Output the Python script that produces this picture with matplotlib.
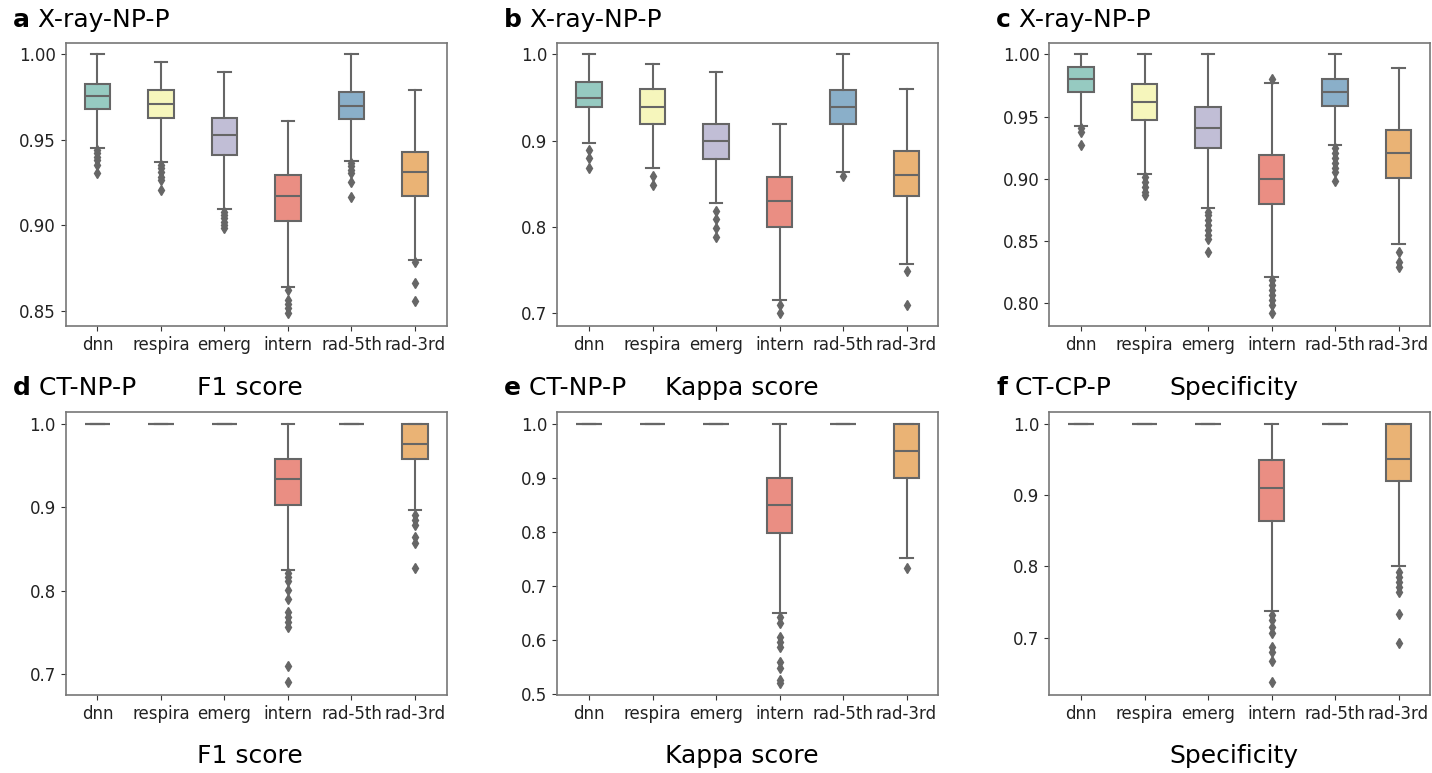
import colorsys
import matplotlib
matplotlib.use('Agg')
import matplotlib.pyplot as plt
import matplotlib.colors as mcolors

groups = ['dnn', 'respira', 'emerg', 'intern', 'rad-5th', 'rad-3rd']
base_colors = ['#8dd3c7', '#ffffb3', '#bebada', '#fb8072', '#80b1d3', '#fdb462']

# per panel, per group: [whislo, q1, med, q3, whishi] and fliers
a_stats = [[0.9455, 0.9679, 0.9755, 0.9827, 1.000],
           [0.9369, 0.9626, 0.9712, 0.9792, 0.9953],
           [0.9098, 0.9410, 0.9527, 0.9626, 0.9899],
           [0.8642, 0.9028, 0.9172, 0.9293, 0.9612],
           [0.9379, 0.9620, 0.9700, 0.9782, 1.000],
           [0.8800, 0.9174, 0.9310, 0.9427, 0.9792]]
a_fliers = [[0.9441, 0.9421, 0.9402, 0.9383, 0.9353, 0.9309],
            [0.9353, 0.9334, 0.9314, 0.9285, 0.9266, 0.9207],
            [0.9081, 0.9061, 0.9042, 0.9022, 0.9003, 0.8987],
            [0.8623, 0.8564, 0.8541, 0.8516, 0.8487],
            [0.9367, 0.9347, 0.9324, 0.9305, 0.9256, 0.9168],
            [0.8788, 0.8666, 0.8559]]

b_stats = [[0.8969, 0.9390, 0.9498, 0.9683, 1.000],
           [0.8687, 0.9193, 0.9390, 0.9595, 0.9892],
           [0.8278, 0.8792, 0.8996, 0.9193, 0.9792],
           [0.7154, 0.8000, 0.8297, 0.8579, 0.9193],
           [0.8633, 0.9193, 0.9390, 0.9587, 1.000],
           [0.7575, 0.8359, 0.8598, 0.8880, 0.9595]]
b_fliers = [[0.8892, 0.8795, 0.8687],
            [0.8591, 0.8486],
            [0.8185, 0.8093, 0.7992, 0.7880],
            [0.7097, 0.7000],
            [0.8591],
            [0.7494, 0.7097]]

c_stats = [[0.9424, 0.9700, 0.9799, 0.9898, 1.000],
           [0.9041, 0.9473, 0.9614, 0.9764, 1.000],
           [0.8763, 0.9250, 0.9411, 0.9577, 1.000],
           [0.8214, 0.8801, 0.8996, 0.9194, 0.9770],
           [0.9274, 0.9588, 0.9700, 0.9805, 1.000],
           [0.8477, 0.9009, 0.9207, 0.9392, 0.9893]]
c_fliers = [[0.9406, 0.9379, 0.9272],
            [0.9017, 0.8977, 0.8937, 0.8897, 0.8870],
            [0.8736, 0.8710, 0.8669, 0.8629, 0.8589, 0.8549, 0.8514, 0.8410],
            [0.9802, 0.8187, 0.8147, 0.8107, 0.8067, 0.8027, 0.7987, 0.7920],
            [0.9245, 0.9205, 0.9165, 0.9124, 0.9084, 0.9058, 0.8985],
            [0.8410, 0.8335, 0.8295]]

d_stats = [[1.0, 1.0, 1.0, 1.0, 1.0],
           [1.0, 1.0, 1.0, 1.0, 1.0],
           [1.0, 1.0, 1.0, 1.0, 1.0],
           [0.8242, 0.9029, 0.9333, 0.9577, 1.000],
           [1.0, 1.0, 1.0, 1.0, 1.0],
           [0.8969, 0.9577, 0.9760, 1.000, 1.000]]
d_fliers = [[], [], [],
            [0.8206, 0.8158, 0.8118, 0.8006, 0.7895, 0.7747, 0.7687, 0.7627,
             0.7559, 0.7095, 0.6900],
            [],
            [0.8905, 0.8845, 0.8785, 0.8646, 0.8566, 0.8270]]

e_stats = [[1.0, 1.0, 1.0, 1.0, 1.0],
           [1.0, 1.0, 1.0, 1.0, 1.0],
           [1.0, 1.0, 1.0, 1.0, 1.0],
           [0.6502, 0.7986, 0.8491, 0.8990, 1.000],
           [1.0, 1.0, 1.0, 1.0, 1.0],
           [0.7525, 0.9002, 0.9495, 1.000, 1.000]]
e_fliers = [[], [], [],
            [0.6435, 0.6312, 0.6065, 0.5973, 0.5868, 0.5603, 0.5480, 0.5265,
             0.5216],
            [],
            [0.7328]]

f_stats = [[1.0, 1.0, 1.0, 1.0, 1.0],
           [1.0, 1.0, 1.0, 1.0, 1.0],
           [1.0, 1.0, 1.0, 1.0, 1.0],
           [0.7374, 0.8640, 0.9098, 0.9491, 1.000],
           [1.0, 1.0, 1.0, 1.0, 1.0],
           [0.8009, 0.9201, 0.9505, 1.000, 1.000]]
f_fliers = [[], [], [],
            [0.7318, 0.7248, 0.7154, 0.7061, 0.6874, 0.6804, 0.6673, 0.6374],
            [],
            [0.7916, 0.7855, 0.7785, 0.7715, 0.7636, 0.7332, 0.6921]]

panels = [
    ('a', 'X-ray-NP-P', '', a_stats, a_fliers, (0.8412, 1.0068),
     [0.85, 0.90, 0.95, 1.00], '%.2f'),
    ('b', 'X-ray-NP-P', '', b_stats, b_fliers, (0.6853, 1.0134),
     [0.7, 0.8, 0.9, 1.0], '%.1f'),
    ('c', 'X-ray-NP-P', '', c_stats, c_fliers, (0.7818, 1.0093),
     [0.80, 0.85, 0.90, 0.95, 1.00], '%.2f'),
    ('d', 'CT-NP-P', 'F1 score', d_stats, d_fliers, (0.6748, 1.0144),
     [0.7, 0.8, 0.9, 1.0], '%.1f'),
    ('e', 'CT-NP-P', 'Kappa score', e_stats, e_fliers, (0.4987, 1.0222),
     [0.5, 0.6, 0.7, 0.8, 0.9, 1.0], '%.1f'),
    ('f', 'CT-CP-P', 'Specificity', f_stats, f_fliers, (0.6197, 1.0168),
     [0.7, 0.8, 0.9, 1.0], '%.1f'),
]


def desat(c, prop=0.75):
    h, l, s = colorsys.rgb_to_hls(*mcolors.to_rgb(c))
    return colorsys.hls_to_rgb(h, l, s * prop)


colors = [desat(c) for c in base_colors]
gray = '#666666'

W, H = 1432, 773
fig = plt.figure(figsize=(W / 100, H / 100), dpi=100)

lefts = [65.7, 557.3, 1049.3]
tops = [42.7, 411.7]
aw, ah = 381.0, 283.3

for i, (letter, name, metric, stats, fliers, ylim, yt, fmt) in enumerate(panels):
    row, col = divmod(i, 3)
    left, top = lefts[col], tops[row]
    ax = fig.add_axes([left / W, 1 - (top + ah) / H, aw / W, ah / H])

    bxp_stats = []
    for s, fl, g in zip(stats, fliers, groups):
        bxp_stats.append(dict(whislo=s[0], q1=s[1], med=s[2], q3=s[3],
                              whishi=s[4], fliers=fl, label=g))
    res = ax.bxp(bxp_stats, positions=range(len(groups)), widths=0.4,
                 patch_artist=True, capwidths=0.2,
                 boxprops=dict(edgecolor=gray, linewidth=1.5),
                 whiskerprops=dict(color=gray, linewidth=1.5),
                 capprops=dict(color=gray, linewidth=1.5),
                 medianprops=dict(color=gray, linewidth=1.5),
                 flierprops=dict(marker='d', markersize=5, markerfacecolor=gray,
                                 markeredgecolor=gray, linestyle='none'))
    for patch, c in zip(res['boxes'], colors):
        patch.set_facecolor(c)

    ax.set_xlim(-0.5, len(groups) - 0.5)
    ax.set_ylim(*ylim)
    ax.set_yticks(yt)
    ax.set_yticklabels([fmt % v for v in yt])
    ax.tick_params(labelsize=12, color='#333333', labelcolor='#222222')
    for sp in ax.spines.values():
        sp.set_color('#777777')
        sp.set_linewidth(1.2)

    # panel letter + dataset name
    base_y = 1 - (26.7 if row == 0 else 395.0) / H
    t = fig.text((left - 53) / W, base_y, letter, fontsize=18,
                 fontweight='bold', va='baseline')
    ax.annotate(' ' + name, xy=(1, 0), xycoords=t, fontsize=18,
                va='bottom', ha='left', annotation_clip=False)

    if metric:
        cx = (left + aw / 2 - 6) / W
        fig.text(cx, base_y, metric, fontsize=18, ha='center', va='baseline')
        fig.text(cx, 1 - 763 / H, metric, fontsize=18, ha='center',
                 va='baseline')

fig.savefig('out.png', dpi=100)
